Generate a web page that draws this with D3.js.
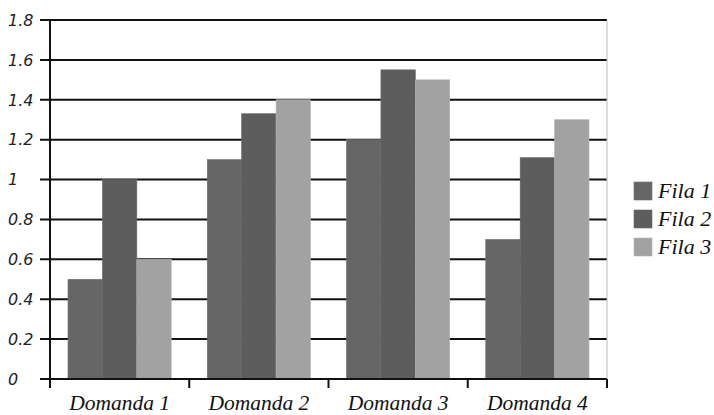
<!DOCTYPE html>
<html>
<head>
<meta charset="utf-8">
<script src="https://cdn.jsdelivr.net/npm/d3@7"></script>
<style>
  html, body { margin: 0; padding: 0; background: #fff; }
  #wrap { position: relative; width: 714px; height: 415px; }
  svg { display: block; position: absolute; left: 0; top: 0; }
</style>
</head>
<body>
<div id="wrap"><svg id="chart" width="714" height="415"></svg></div>
<script>
// Categories, series and their values
const categories = ["Domanda 1", "Domanda 2", "Domanda 3", "Domanda 4"];
const seriesNames = ["Fila 1", "Fila 2", "Fila 3"];
const fila1 = [0.5, 1.1, 1.2, 0.7];
const fila2 = [1.0, 1.33, 1.55, 1.11];
const fila3 = [0.6, 1.4, 1.5, 1.3];
const yTicks = [0, 0.2, 0.4, 0.6, 0.8, 1, 1.2, 1.4, 1.6, 1.8];
const colors = ["#666666", "#5d5d5d", "#a2a2a2"];

const seriesValues = [fila1, fila2, fila3];

const wrap = d3.select("#wrap");
const svg = d3.select("#chart");
const plotLeft = 50, plotRight = 607, plotTop = 20, plotBottom = 379;

const x0 = d3.scaleBand().domain(categories).range([plotLeft, plotRight]).padding(0);
const x1 = d3.scaleBand().domain(seriesNames)
  .range([18, x0.bandwidth() - 18]).padding(0);
const y = d3.scaleLinear().domain([0, 1.8]).range([plotBottom, plotTop]);

// Horizontal gridlines (behind bars)
svg.append("g")
  .selectAll("line")
  .data(yTicks)
  .join("line")
  .attr("x1", plotLeft - 10)
  .attr("x2", plotRight)
  .attr("y1", d => y(d))
  .attr("y2", d => y(d))
  .attr("stroke", "#111")
  .attr("stroke-width", 2);

// Right frame line
svg.append("line")
  .attr("x1", plotRight).attr("x2", plotRight)
  .attr("y1", plotTop).attr("y2", plotBottom)
  .attr("stroke", "#bbb").attr("stroke-width", 1);

// Bars
const groups = svg.append("g")
  .selectAll("g")
  .data(categories)
  .join("g")
  .attr("transform", d => `translate(${x0(d)},0)`);

groups.selectAll("rect")
  .data((c, i) => seriesNames.map((s, j) => ({ s, j, v: seriesValues[j][i] })))
  .join("rect")
  .attr("x", d => x1(d.s))
  .attr("width", x1.bandwidth())
  .attr("y", d => y(d.v))
  .attr("height", d => y(0) - y(d.v))
  .attr("fill", d => colors[d.j])
  .attr("stroke", d => d3.color(colors[d.j]).brighter(0.3))
  .attr("stroke-width", 0.6);

// Y axis line
svg.append("line")
  .attr("x1", plotLeft).attr("x2", plotLeft)
  .attr("y1", plotTop).attr("y2", plotBottom + 9)
  .attr("stroke", "#111").attr("stroke-width", 2);

// X axis baseline and category separator ticks
svg.append("line")
  .attr("x1", plotLeft - 10).attr("x2", plotRight)
  .attr("y1", y(0)).attr("y2", y(0))
  .attr("stroke", "#111").attr("stroke-width", 2);

svg.append("g")
  .selectAll("line")
  .data(categories)
  .join("line")
  .attr("x1", d => x0(d) + x0.bandwidth())
  .attr("x2", d => x0(d) + x0.bandwidth())
  .attr("y1", plotBottom)
  .attr("y2", plotBottom + 9)
  .attr("stroke", "#111").attr("stroke-width", 2);

// Y tick labels
svg.append("g")
  .selectAll("text")
  .data(yTicks)
  .join("text")
  .attr("style", "font-family:'DejaVu Sans';font-style:italic;font-size:16px")
  .attr("x", 8)
  .attr("y", d => y(d))
  .attr("dy", "0.36em")
  .attr("fill", "#222")
  .text(d => String(d));

// Category labels (serif italic, laid over the svg)
wrap.selectAll("div.cat")
  .data(categories)
  .join("div")
  .attr("class", "cat")
  .attr("style", d =>
    "position:absolute;white-space:nowrap;color:#111;" +
    "font-family:'Liberation Serif';font-style:italic;" +
    "font-size:21.5px;line-height:21.5px;top:393px;" +
    "left:" + (x0(d) + x0.bandwidth() / 2) + "px;transform:translateX(-50%)")
  .text(d => d);

// Legend swatches
const legend = svg.append("g")
  .selectAll("g")
  .data(seriesNames)
  .join("g")
  .attr("transform", (d, i) => `translate(634,${182 + i * 28})`);

legend.append("rect")
  .attr("width", 18).attr("height", 18)
  .attr("fill", (d, i) => colors[i])
  .attr("stroke", (d, i) => d3.color(colors[i]).brighter(0.3))
  .attr("stroke-width", 0.6);

// Legend labels
wrap.selectAll("div.leg")
  .data(seriesNames)
  .join("div")
  .attr("class", "leg")
  .attr("style", (d, i) =>
    "position:absolute;white-space:nowrap;color:#111;" +
    "font-family:'Liberation Serif';font-style:italic;" +
    "font-size:22px;line-height:22px;left:658px;" +
    "top:" + (180 + i * 28) + "px")
  .text(d => d);
</script>
</body>
</html>
